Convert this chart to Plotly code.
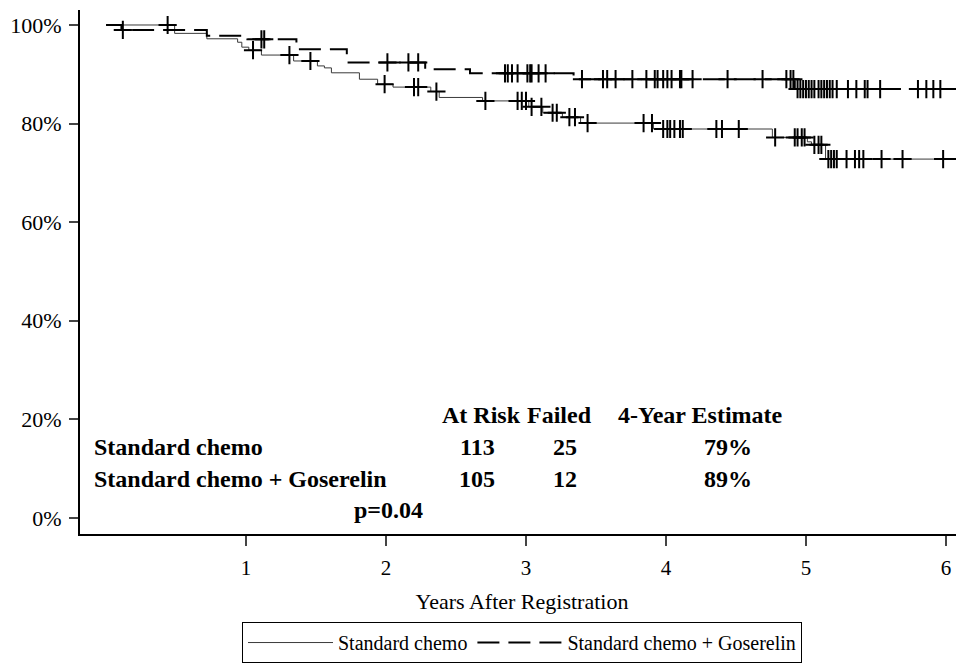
import numpy as np
import plotly.graph_objects as go

# ---- data ----
std_name = "Standard chemo"
gos_name = "Standard chemo + Goserelin"

std_t = [0, 0.49, 0.72, 0.94, 0.97, 1.02, 1.11, 1.34, 1.51, 1.56, 1.61, 1.81, 1.94, 2.05,
         2.32, 2.38, 2.69, 3.02, 3.12, 3.26, 3.39, 3.91, 4.76, 5.01, 5.04, 5.14, 6.13]
std_s = [100, 98.3, 97.2, 96.5, 95.5, 94.9, 93.9, 92.7, 91.7, 91.3, 90.3, 89.0, 88.0, 87.4,
         86.5, 85.3, 84.6, 83.4, 82.2, 81.3, 80.1, 78.9, 77.2, 76.3, 75.7, 72.8, 72.8]
std_cens = [0.44, 1.05, 1.31, 1.46, 1.99, 2.20, 2.23, 2.36, 2.71, 2.94, 2.97, 3.00, 3.04, 3.11,
            3.19, 3.22, 3.31, 3.35, 3.44, 3.84, 3.90, 3.98, 4.01, 4.03, 4.06, 4.10, 4.12,
            4.36, 4.40, 4.52, 4.78, 4.92, 4.94, 4.97, 4.99, 5.06, 5.09, 5.11, 5.16, 5.18,
            5.20, 5.22, 5.29, 5.35, 5.38, 5.41, 5.54, 5.69, 5.98, 6.09]

gos_t = [0, 0.11, 0.72, 1.01, 1.36, 1.72, 2.28, 2.60, 3.34, 4.92, 6.13]
gos_s = [100, 99.0, 97.8, 97.1, 95.1, 92.4, 91.0, 90.2, 89.0, 87.0, 87.0]
gos_cens = [0.12, 1.11, 1.13, 2.01, 2.16, 2.23, 2.85, 2.87, 2.90, 2.94, 3.01, 3.03, 3.04,
            3.09, 3.14, 3.40, 3.55, 3.58, 3.64, 3.76, 3.86, 3.92, 3.94, 3.98, 4.01, 4.04,
            4.10, 4.11, 4.19, 4.44, 4.69, 4.86, 4.89, 4.91, 4.94, 4.96, 4.98, 5.00, 5.02,
            5.04, 5.06, 5.09, 5.11, 5.13, 5.15, 5.17, 5.19, 5.22, 5.30, 5.36, 5.42, 5.44,
            5.53, 5.80, 5.86, 5.91, 5.96]

groups = [std_name, gos_name]
at_risk = [113, 105]
failed = [25, 12]
est4 = ["79%", "89%"]
p_text = "p=0.04"

y_ticks = [0, 20, 40, 60, 80, 100]
y_ticktext = ["0%", "20%", "40%", "60%", "80%", "100%"]
x_ticks = [1, 2, 3, 4, 5, 6]

FONT = "Liberation Serif, Times New Roman, serif"


def step_value(t, s, c):
    t = np.asarray(t)
    s = np.asarray(s)
    idx = np.searchsorted(t, np.asarray(c), side="right") - 1
    return s[idx]


fig = go.Figure()

fig.add_trace(go.Scatter(x=std_t, y=std_s, mode="lines", line_shape="hv",
                         line=dict(color="#3a3a3a", width=1), name=std_name,
                         showlegend=True))
fig.add_trace(go.Scatter(x=gos_t, y=gos_s, mode="lines", line_shape="hv",
                         line=dict(color="black", width=2, dash="22px,9px"), name=gos_name,
                         showlegend=True))

for cens, t, s in [(std_cens, std_t, std_s), (gos_cens, gos_t, gos_s)]:
    fig.add_trace(go.Scatter(x=cens, y=step_value(t, s, cens), mode="markers",
                             marker=dict(symbol="cross-thin", size=13,
                                         line=dict(color="black", width=2)),
                             showlegend=False, hoverinfo="skip"))

# table annotations
ann = []
bold = dict(family=FONT, size=24, color="black")
col_x = [2.65, 3.28, 4.44]
head_x = [2.68, 3.24, 4.25]
headers = ["At Risk", "Failed", "4-Year Estimate"]
for hx, h in zip(head_x, headers):
    ann.append(dict(x=hx, y=20.9, xref="x", yref="y", text=f"<b>{h}</b>",
                    showarrow=False, xanchor="center", yanchor="middle", font=bold))
row_y = [14.4, 7.9]
for i, g in enumerate(groups):
    ann.append(dict(x=-0.1, y=row_y[i], xref="x", yref="y", text=f"<b>{g}</b>",
                    showarrow=False, xanchor="left", yanchor="middle", font=bold))
    for cx, v in zip(col_x, [at_risk[i], failed[i], est4[i]]):
        ann.append(dict(x=cx, y=row_y[i], xref="x", yref="y", text=f"<b>{v}</b>",
                        showarrow=False, xanchor="center", yanchor="middle", font=bold))
ann.append(dict(x=2.02, y=1.6, xref="x", yref="y", text=f"<b>{p_text}</b>",
                showarrow=False, xanchor="center", yanchor="middle", font=bold))

# the page body adds an 8px offset; margins compensate so the plot area sits at
# page x 80..964 and y 10..534
fig.update_layout(
    width=964, height=664,
    margin=dict(l=72, r=8, t=2, b=138, autoexpand=False),
    paper_bgcolor="white", plot_bgcolor="white",
    font=dict(family=FONT, size=21, color="black"),
    annotations=ann,
    legend=dict(orientation="h", x=0.5, xanchor="center", y=-0.168, yanchor="top",
                bordercolor="black", borderwidth=1, font=dict(family=FONT, size=20),
                itemwidth=85, bgcolor="white"),
    xaxis=dict(range=[-0.186, 6.129], tickvals=x_ticks, ticks="outside", ticklen=10,
               tickwidth=2, showline=True, linewidth=2, linecolor="black", showgrid=False,
               zeroline=False, ticklabelstandoff=4, automargin=False,
               title=dict(text="Years After Registration", font=dict(size=22), standoff=14)),
    yaxis=dict(range=[-3.25, 103.04], tickvals=y_ticks, ticktext=y_ticktext, ticks="outside",
               ticklen=9, tickwidth=2, showline=True, linewidth=2, linecolor="black",
               showgrid=False, zeroline=False, automargin=False, ticklabelstandoff=3,
               tickfont=dict(size=22)),
)

fig.write_html("out.html")
